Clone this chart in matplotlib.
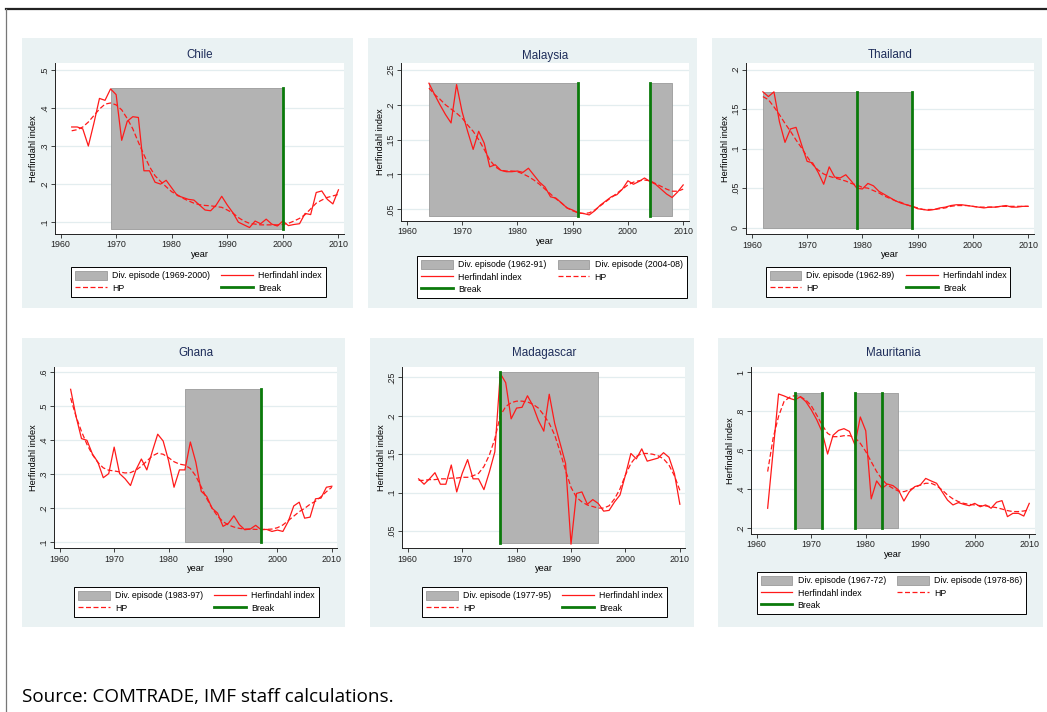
import numpy as np
import matplotlib.pyplot as plt
from matplotlib.patches import Patch, Rectangle
from matplotlib.lines import Line2D

plt.rcParams['font.family'] = ['Liberation Sans', 'DejaVu Sans']

# ---- data ----
years = np.arange(1962, 2011)
years_mys = np.arange(1964, 2011)

chile_herf = [0.35, 0.35, 0.345, 0.30, 0.36, 0.425, 0.42, 0.45, 0.435, 0.315,
              0.365, 0.377, 0.375, 0.235, 0.235, 0.205, 0.20, 0.21, 0.19, 0.17,
              0.165, 0.16, 0.158, 0.145, 0.132, 0.13, 0.145, 0.168, 0.145, 0.125,
              0.10, 0.093, 0.086, 0.103, 0.096, 0.108, 0.095, 0.09, 0.103, 0.091,
              0.094, 0.096, 0.123, 0.12, 0.178, 0.182, 0.16, 0.148, 0.185]
chile_hp = [0.34, 0.343, 0.35, 0.363, 0.38, 0.397, 0.41, 0.413, 0.408, 0.395,
            0.372, 0.345, 0.31, 0.277, 0.246, 0.222, 0.207, 0.193, 0.18, 0.172,
            0.163, 0.156, 0.15, 0.146, 0.144, 0.143, 0.141, 0.139, 0.132, 0.124,
            0.112, 0.103, 0.097, 0.095, 0.093, 0.093, 0.093, 0.093, 0.094, 0.097,
            0.103, 0.11, 0.12, 0.135, 0.15, 0.158, 0.165, 0.169, 0.173]

malaysia_herf = [0.231, 0.215, 0.2, 0.186, 0.174, 0.229, 0.19, 0.162, 0.136, 0.162,
                 0.145, 0.111, 0.114, 0.106, 0.104, 0.104, 0.105, 0.103, 0.109, 0.099,
                 0.089, 0.082, 0.068, 0.066, 0.059, 0.052, 0.049, 0.045, 0.044, 0.042,
                 0.048, 0.056, 0.062, 0.068, 0.071, 0.079, 0.091, 0.086, 0.09, 0.095,
                 0.09, 0.086, 0.079, 0.072, 0.067, 0.075, 0.085]
malaysia_hp = [0.224, 0.215, 0.208, 0.2, 0.194, 0.188, 0.181, 0.171, 0.162, 0.15,
               0.136, 0.121, 0.111, 0.106, 0.105, 0.105, 0.104, 0.101, 0.097, 0.092,
               0.086, 0.079, 0.072, 0.065, 0.059, 0.052, 0.048, 0.045, 0.044, 0.045,
               0.049, 0.055, 0.061, 0.067, 0.073, 0.079, 0.085, 0.089, 0.091, 0.092,
               0.091, 0.087, 0.083, 0.079, 0.076, 0.076, 0.079]

thailand_herf = [0.172, 0.166, 0.172, 0.134, 0.108, 0.125, 0.127, 0.105, 0.084, 0.082,
                 0.07, 0.055, 0.077, 0.064, 0.063, 0.067, 0.059, 0.05, 0.049, 0.056,
                 0.053, 0.046, 0.042, 0.038, 0.034, 0.031, 0.029, 0.027, 0.024, 0.023,
                 0.022, 0.023, 0.025, 0.026, 0.028, 0.029, 0.029, 0.028, 0.027, 0.026,
                 0.025, 0.026, 0.026, 0.027, 0.028, 0.026, 0.026, 0.027, 0.027]
thailand_hp = [0.166, 0.162, 0.153, 0.143, 0.132, 0.122, 0.111, 0.101, 0.09, 0.08,
               0.073, 0.068, 0.065, 0.063, 0.061, 0.059, 0.056, 0.054, 0.051, 0.05,
               0.047, 0.044, 0.04, 0.037, 0.034, 0.032, 0.029, 0.027, 0.025, 0.023,
               0.023, 0.023, 0.024, 0.025, 0.027, 0.028, 0.028, 0.028, 0.027, 0.026,
               0.026, 0.026, 0.026, 0.027, 0.027, 0.027, 0.027, 0.027, 0.027]

ghana_herf = [0.55, 0.47, 0.405, 0.40, 0.36, 0.336, 0.29, 0.302, 0.38, 0.302,
              0.287, 0.267, 0.313, 0.345, 0.313, 0.367, 0.418, 0.398, 0.34, 0.262,
              0.313, 0.313, 0.395, 0.336, 0.25, 0.235, 0.2, 0.186, 0.147, 0.156,
              0.178, 0.152, 0.137, 0.139, 0.15, 0.137, 0.138, 0.132, 0.136, 0.132,
              0.162, 0.207, 0.218, 0.171, 0.174, 0.228, 0.23, 0.262, 0.265]
ghana_hp = [0.524, 0.47, 0.426, 0.388, 0.358, 0.335, 0.319, 0.312, 0.31, 0.307,
            0.304, 0.305, 0.312, 0.324, 0.339, 0.354, 0.362, 0.359, 0.349, 0.337,
            0.33, 0.327, 0.317, 0.295, 0.263, 0.229, 0.2, 0.177, 0.161, 0.151,
            0.145, 0.141, 0.139, 0.139, 0.138, 0.138, 0.138, 0.139, 0.143, 0.151,
            0.164, 0.177, 0.19, 0.2, 0.212, 0.221, 0.234, 0.249, 0.262]

madag_herf = [0.118, 0.111, 0.118, 0.126, 0.111, 0.111, 0.136, 0.101, 0.125, 0.143,
              0.118, 0.118, 0.104, 0.127, 0.153, 0.255, 0.243, 0.196, 0.21, 0.211,
              0.226, 0.213, 0.194, 0.18, 0.228, 0.19, 0.164, 0.138, 0.033, 0.099,
              0.101, 0.085, 0.091, 0.086, 0.076, 0.077, 0.088, 0.097, 0.123, 0.151,
              0.144, 0.157, 0.141, 0.143, 0.145, 0.152, 0.146, 0.125, 0.085]
madag_hp = [0.116, 0.116, 0.117, 0.117, 0.118, 0.118, 0.119, 0.119, 0.12, 0.12,
            0.122, 0.125, 0.134, 0.149, 0.17, 0.2, 0.212, 0.217, 0.219, 0.219,
            0.218, 0.215, 0.21, 0.201, 0.19, 0.175, 0.153, 0.129, 0.107, 0.094,
            0.088, 0.084, 0.082, 0.08, 0.08, 0.083, 0.092, 0.105, 0.123, 0.138,
            0.147, 0.151, 0.151, 0.15, 0.148, 0.144, 0.136, 0.122, 0.103]

maur_herf = [0.303, 0.594, 0.889, 0.879, 0.867, 0.858, 0.875, 0.85, 0.808, 0.757,
             0.694, 0.581, 0.677, 0.702, 0.711, 0.697, 0.629, 0.771, 0.7, 0.351,
             0.443, 0.405, 0.427, 0.419, 0.397, 0.34, 0.388, 0.414, 0.422, 0.456,
             0.443, 0.431, 0.388, 0.345, 0.32, 0.332, 0.323, 0.316, 0.328, 0.311,
             0.32, 0.303, 0.334, 0.342, 0.26, 0.277, 0.277, 0.263, 0.328]
maur_hp = [0.491, 0.662, 0.774, 0.85, 0.872, 0.881, 0.875, 0.858, 0.829, 0.781,
           0.73, 0.687, 0.67, 0.67, 0.675, 0.675, 0.665, 0.636, 0.594, 0.542,
           0.491, 0.451, 0.422, 0.405, 0.391, 0.388, 0.397, 0.41, 0.422, 0.431,
           0.431, 0.419, 0.397, 0.371, 0.351, 0.337, 0.328, 0.323, 0.32, 0.316,
           0.315, 0.311, 0.306, 0.299, 0.291, 0.286, 0.286, 0.289, 0.294]

# diversification episodes (drawn start, end, legend label) and shading height
chile_episodes = [(1969, 2000, '1969-2000')]
malaysia_episodes = [(1964, 1991, '1962-91'), (2004, 2008, '2004-08')]
thailand_episodes = [(1962, 1989, '1962-89')]
ghana_episodes = [(1983, 1997, '1983-97')]
madag_episodes = [(1977, 1995, '1977-95')]
maur_episodes = [(1967, 1972, '1967-72'), (1978, 1986, '1978-86')]

chile_band = (0.082, 0.452)
malaysia_band = (0.040, 0.232)
thailand_band = (0.0, 0.172)
ghana_band = (0.10, 0.55)
madag_band = (0.035, 0.257)
maur_band = (0.20, 0.893)

chile_breaks = [2000]
malaysia_breaks = [1991, 2004]
thailand_breaks = [1979, 1989]
ghana_breaks = [1997]
madag_breaks = [1977]
maur_breaks = [1967, 1972, 1978, 1983]

chile_yticks = [0.1, 0.2, 0.3, 0.4, 0.5]
malaysia_yticks = [0.05, 0.1, 0.15, 0.2, 0.25]
thailand_yticks = [0, 0.05, 0.1, 0.15, 0.2]
ghana_yticks = [0.1, 0.2, 0.3, 0.4, 0.5, 0.6]
madag_yticks = [0.05, 0.1, 0.15, 0.2, 0.25]
maur_yticks = [0.2, 0.4, 0.6, 0.8, 1.0]
xticks = [1960, 1970, 1980, 1990, 2000, 2010]

W, H = 1047, 712
fig = plt.figure(figsize=(W / 100, H / 100), dpi=100)

def fx(px):
    return px / W

def fy(py):
    return 1 - py / H

BG = '#eaf2f3'
RED = '#ff1a1a'
GREEN = '#0b7a0b'
SHADE = '#b3b3b3'

def stata_fmt(v):
    s = ('%g' % round(v, 3))
    if s.startswith('0.'):
        s = s[1:]
    return s

def panel(name, x, herf, hp, episodes, band, breaks, yticks,
          bg, axrect, ylim, title_y, leg_top, leg_cx):
    # grey-blue graph region behind the axes
    fig.patches.append(Rectangle((fx(bg[0]), fy(bg[3])), fx(bg[2] - bg[0]),
                                 (bg[3] - bg[1]) / H, transform=fig.transFigure,
                                 facecolor=BG, edgecolor='none', zorder=-5))
    l, t, r, b = axrect
    ax = fig.add_axes([fx(l), fy(b), fx(r - l), (b - t) / H])
    ax.set_facecolor('white')
    for e0, e1, lab in episodes:
        ax.fill_between([e0, e1], band[0], band[1], facecolor=SHADE,
                        edgecolor='#9a9a9a', linewidth=0.6, zorder=1)
    ax.plot(x, herf, color=RED, lw=0.9, zorder=3)
    ax.plot(x, hp, color=RED, lw=0.9, ls=(0, (4, 2)), zorder=3)
    for bk in breaks:
        ax.plot([bk, bk], band, color=GREEN, lw=2.0, zorder=4)
    ax.set_xlim(1959, 2011)
    ax.set_ylim(*ylim)
    ax.set_xticks(xticks)
    ax.set_yticks(yticks)
    ax.set_yticklabels([stata_fmt(v) for v in yticks], rotation=90, va='center')
    ax.grid(axis='y', color='#e3edef', lw=0.9, zorder=0)
    ax.set_axisbelow(True)
    for s in ['top', 'right']:
        ax.spines[s].set_visible(False)
    for s in ['left', 'bottom']:
        ax.spines[s].set_color('#222222')
        ax.spines[s].set_linewidth(0.7)
    ax.tick_params(labelsize=6.4, length=3, width=0.6, pad=1.5, colors='#222222')
    ax.set_xlabel('year', fontsize=6.6, labelpad=0.5)
    ax.set_ylabel('Herfindahl index', fontsize=6.6, labelpad=1)
    fig.text(fx((l + r) / 2), fy(title_y), name, ha='center', va='center',
             fontsize=8.4, color='#1e2d5a')

    ep_handles = [Patch(facecolor=SHADE, edgecolor='#9a9a9a', lw=0.6)
                  for _ in episodes]
    ep_labels = ['Div. episode (%s)' % e[2] for e in episodes]
    h_herf = Line2D([], [], color=RED, lw=0.9)
    h_hp = Line2D([], [], color=RED, lw=0.9, ls=(0, (4, 2)))
    h_brk = Line2D([], [], color=GREEN, lw=2.0)
    if len(episodes) == 1:
        handles = [ep_handles[0], h_hp, h_herf, h_brk]
        labels = [ep_labels[0], 'HP', 'Herfindahl index', 'Break']
    else:
        handles = [ep_handles[0], h_herf, h_brk, ep_handles[1], h_hp]
        labels = [ep_labels[0], 'Herfindahl index', 'Break', ep_labels[1], 'HP']
    leg = ax.legend(handles, labels, ncol=2, loc='upper center',
                    bbox_to_anchor=(fx(leg_cx), fy(leg_top)),
                    bbox_transform=fig.transFigure, fontsize=6.3,
                    frameon=True, fancybox=False, edgecolor='black',
                    framealpha=1, facecolor='white',
                    handlelength=3.6, handleheight=1.1, handletextpad=0.6,
                    columnspacing=1.3, labelspacing=0.35, borderpad=0.45)
    leg.get_frame().set_linewidth(0.7)
    return ax

panel('Chile', years, chile_herf, chile_hp, chile_episodes, chile_band,
      chile_breaks, chile_yticks, (22, 38, 353, 308), (55, 63, 344, 234),
      (0.069, 0.518), 55.5, 263, 198.5)
panel('Malaysia', years_mys, malaysia_herf, malaysia_hp, malaysia_episodes,
      malaysia_band, malaysia_breaks, malaysia_yticks, (368, 38, 697, 308),
      (401.3, 63, 688.7, 220.7), (0.0337, 0.26), 55.5, 252, 552)
panel('Thailand', years, thailand_herf, thailand_hp, thailand_episodes,
      thailand_band, thailand_breaks, thailand_yticks, (712, 38, 1042, 308),
      (746.3, 63, 1033.7, 234.3), (-0.0084, 0.2085), 55.5, 263, 888)
panel('Ghana', years, ghana_herf, ghana_hp, ghana_episodes, ghana_band,
      ghana_breaks, ghana_yticks, (22, 338, 345, 627), (54.3, 366.7, 337.3, 548.3),
      (0.0824, 0.6165), 353, 583, 196.5)
panel('Madagascar', years, madag_herf, madag_hp, madag_episodes, madag_band,
      madag_breaks, madag_yticks, (370, 338, 694, 627), (402.3, 366.7, 685.3, 548.3),
      (0.0277, 0.2638), 353, 583, 544.5)
panel('Mauritania', years, maur_herf, maur_hp, maur_episodes, maur_band,
      maur_breaks, maur_yticks, (718, 338, 1043, 627), (751.3, 366.7, 1034.7, 534),
      (0.171, 1.0287), 353, 568, 891.5)

# outer frame lines
fig.add_artist(Line2D([fx(6), 1], [fy(9), fy(9)], color='#222222', lw=1.6,
                      transform=fig.transFigure))
fig.add_artist(Line2D([fx(6), fx(6)], [fy(9), 0], color='#777777', lw=0.9,
                      transform=fig.transFigure))

fig.text(fx(22), fy(697), 'Source: COMTRADE, IMF staff calculations.',
         fontsize=13.6, family=['Open Sans', 'DejaVu Sans'], va='center', ha='left')

fig.savefig('out.png', dpi=100, facecolor='white')
